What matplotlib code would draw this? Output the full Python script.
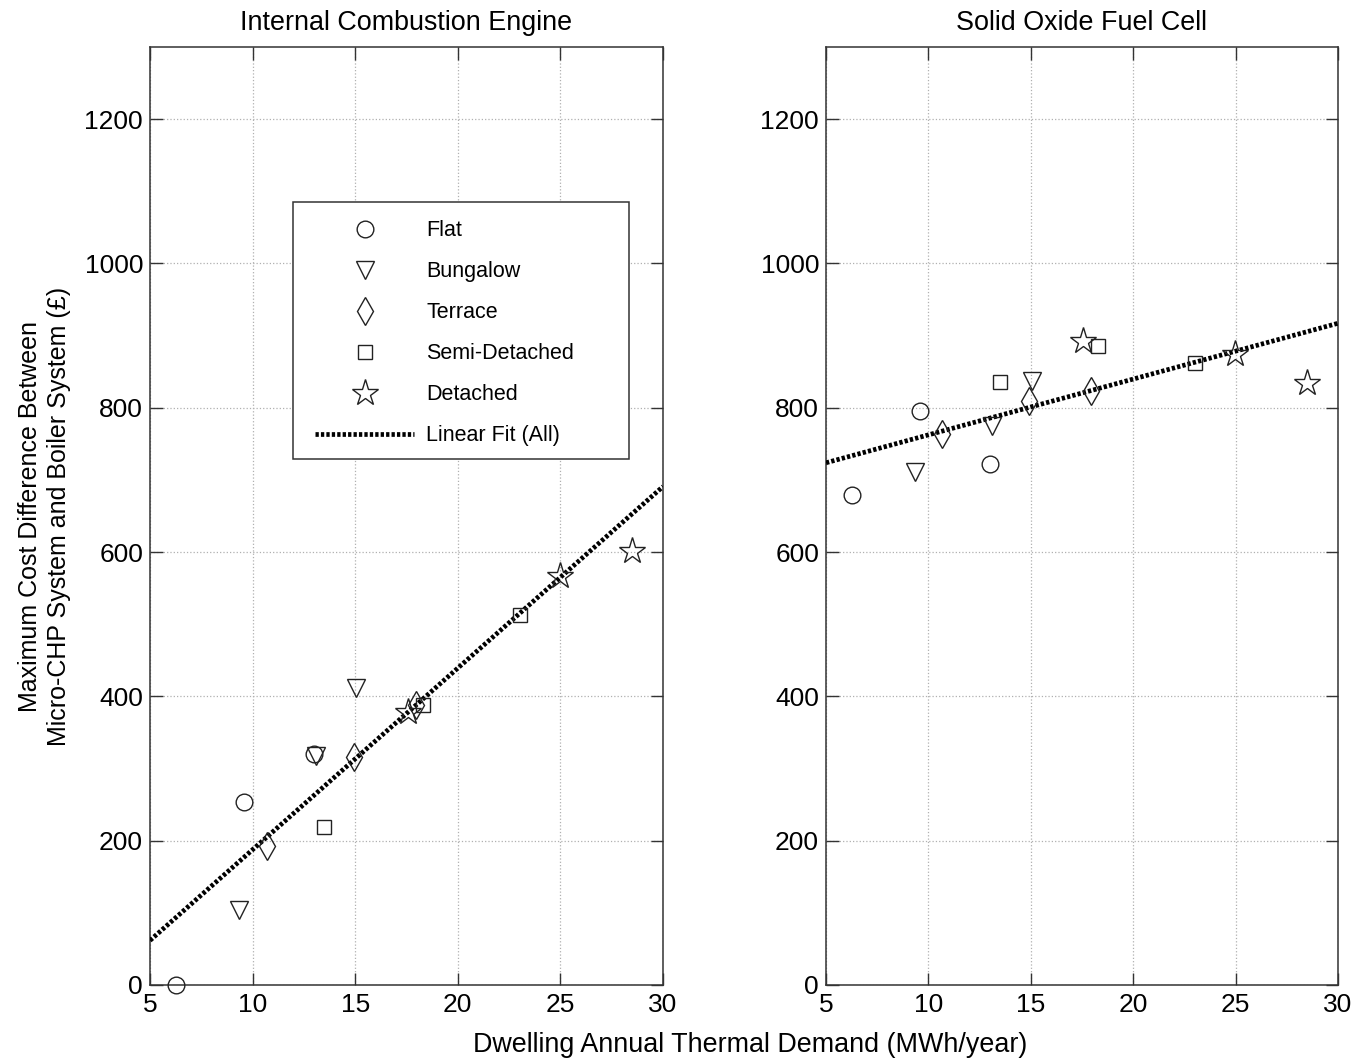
import numpy as np
import matplotlib
matplotlib.use("Agg")
import matplotlib.pyplot as plt
from matplotlib.patches import Rectangle

plt.rcParams['font.family'] = ['Liberation Sans', 'DejaVu Sans']
plt.rcParams['font.size'] = 18

# dwelling annual thermal demand (MWh/year), same dwellings in both panels
x_flat = [6.25, 9.57, 12.99]
x_bung = [9.35, 13.10, 15.04]
x_terr = [10.68, 14.92, 17.95]
x_semi = [13.49, 18.28, 23.02]
x_det = [17.57, 24.97, 28.47]

# internal combustion engine
ice_flat = [0, 254, 320]
ice_bung = [104, 317, 412]
ice_terr = [192, 316, 388]
ice_semi = [219, 388, 513]
ice_det = [378, 567, 601]

# solid oxide fuel cell
sofc_flat = [679, 795, 722]
sofc_bung = [711, 775, 837]
sofc_terr = [764, 810, 823]
sofc_semi = [836, 885, 862]
sofc_det = [892, 874, 834]

labels = ["Flat", "Bungalow", "Terrace", "Semi-Detached", "Detached"]
markers = ["o", "v", "d", "s", "*"]
msizes = [12, 13, 14, 10, 20]
xs = [x_flat, x_bung, x_terr, x_semi, x_det]

fig = plt.figure(figsize=(13.56, 10.62), dpi=100)
ax1 = fig.add_axes([150/1356, 77/1062, 513/1356, 938/1062])
ax2 = fig.add_axes([826/1356, 77/1062, 512/1356, 938/1062])


def panel(ax, ys, title):
    for x, y, m, s, lab in zip(xs, ys, markers, msizes, labels):
        ax.plot(x, y, linestyle='none', marker=m, markersize=s, mfc='none',
                mec='#222222', mew=1.0, label=lab, clip_on=False, zorder=4)
    allx = np.concatenate(xs)
    ally = np.concatenate(ys)
    k, b = np.polyfit(allx, ally, 1)
    xl = np.array([5, 30])
    ax.plot(xl, k*xl + b, color='black', lw=3.4, dashes=(0.7, 0.45),
            dash_capstyle='butt', label='Linear Fit (All)', zorder=3)
    ax.set_xlim(5, 30)
    ax.set_ylim(0, 1300)
    ax.set_xticks([5, 10, 15, 20, 25, 30])
    ax.set_yticks([0, 200, 400, 600, 800, 1000, 1200])
    ax.grid(True, linestyle=':', color='#b0b0b0', lw=0.9)
    ax.tick_params(direction='in', top=True, right=True, length=9, width=1.0,
                   labelsize=19, color='#333333')
    ax.tick_params(axis='x', pad=6)
    ax.tick_params(axis='y', pad=5)
    for sp in ax.spines.values():
        sp.set_color('#333333')
        sp.set_linewidth(1.1)
    ax.set_title(title, fontsize=19.4, pad=12)


panel(ax1, [ice_flat, ice_bung, ice_terr, ice_semi, ice_det], "Internal Combustion Engine")
panel(ax2, [sofc_flat, sofc_bung, sofc_terr, sofc_semi, sofc_det], "Solid Oxide Fuel Cell")

# legend box is wider than its text, so the frame is drawn separately
leg = ax1.legend(loc='upper left', bbox_to_anchor=(0.297, 0.829), fontsize=15.5,
                 frameon=False, handlelength=4.6, handletextpad=0.55,
                 labelspacing=0.93, borderpad=0.6, borderaxespad=0)
ax1.add_patch(Rectangle(((293-150)/513, (985-459)/938), 336/513, 257/938,
                        transform=ax1.transAxes, fill=True, facecolor='white',
                        edgecolor='#333333', lw=1.1, zorder=4.5))
leg.set_zorder(5)

ax1.set_ylabel("Maximum Cost Difference Between\nMicro-CHP System and Boiler System (£)",
               fontsize=18, labelpad=10, linespacing=1.25)
fig.text(750/1356, 17/1062, "Dwelling Annual Thermal Demand (MWh/year)",
         ha='center', va='center', fontsize=19.4)

fig.savefig("out.png", dpi=100)
